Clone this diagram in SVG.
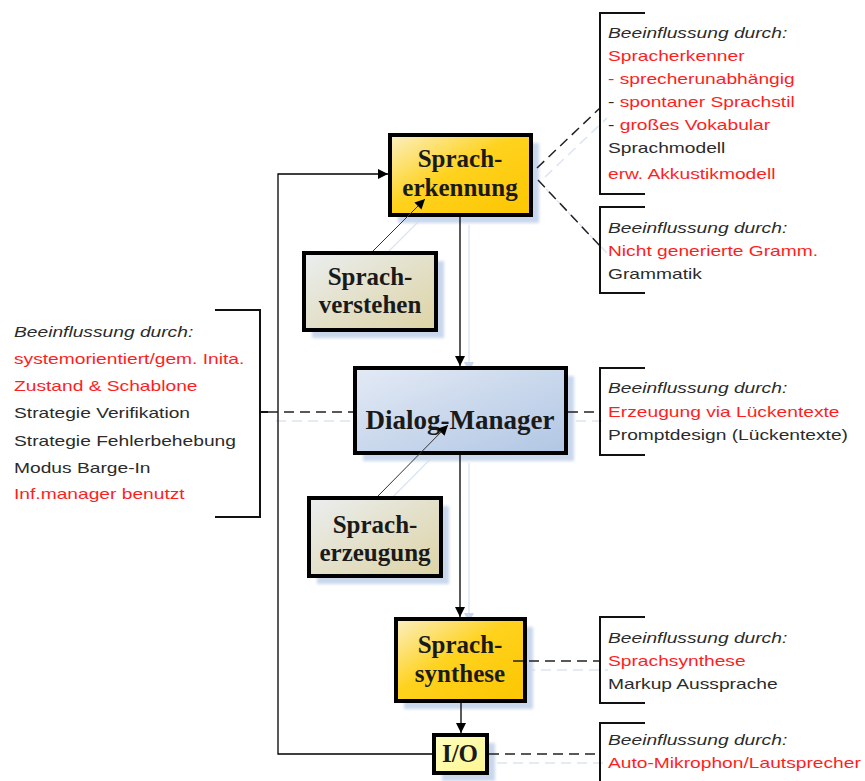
<svg xmlns="http://www.w3.org/2000/svg" width="865" height="781" viewBox="0 0 865 781">
  <style>
    .box { stroke: #000; stroke-width: 4; }
    .shadow { fill: #c9d7ec; filter: url(#soft); }
    .lbl { font-family: "Liberation Serif", "Times New Roman", serif; font-weight: bold; font-size: 25px; fill: #1a1a1a; text-anchor: middle; }
    .flow { stroke: #000; stroke-width: 1.3; fill: none; }
    .thin { stroke: #333; stroke-width: 1; fill: none; }
    .dash { stroke: #222; stroke-width: 1.5; fill: none; stroke-dasharray: 10 6; }
    .ghost { stroke: #dce5f2; stroke-width: 1.3; fill: none; }
    .ghostdash { stroke: #dce5f2; stroke-width: 1.5; fill: none; stroke-dasharray: 10 6; }
    .brk { stroke: #111; stroke-width: 2; fill: none; }
    .note { font-family: "Liberation Sans", Arial, sans-serif; font-size: 15px; fill: #2b2b2b; }
    .note .hd { font-style: italic; }
    .note .r { fill: #ff1e1e; }
  </style>
  <defs>
    <filter id="soft" x="-10%" y="-10%" width="120%" height="120%">
      <feGaussianBlur stdDeviation="1.5"/>
    </filter>
    <linearGradient id="gold" x1="0" y1="0" x2="1" y2="1">
      <stop offset="0" stop-color="#fbf0c4"/>
      <stop offset="0.45" stop-color="#ffd21e"/>
      <stop offset="1" stop-color="#fcc600"/>
    </linearGradient>
    <linearGradient id="beige" x1="0" y1="0" x2="1" y2="1">
      <stop offset="0" stop-color="#eaeef0"/>
      <stop offset="1" stop-color="#ddd3a4"/>
    </linearGradient>
    <linearGradient id="blue" x1="0" y1="0" x2="1" y2="1">
      <stop offset="0" stop-color="#e3eaf5"/>
      <stop offset="1" stop-color="#b1c6e4"/>
    </linearGradient>
    <linearGradient id="pale" x1="0" y1="0" x2="1" y2="1">
      <stop offset="0" stop-color="#ffffc0"/>
      <stop offset="1" stop-color="#fdf590"/>
    </linearGradient>
    <marker id="arr" viewBox="0 0 10 10" refX="10" refY="5" markerWidth="10" markerHeight="10" markerUnits="userSpaceOnUse" orient="auto">
      <path d="M0,0 L10,5 L0,10 z" fill="#000"/>
    </marker>
    <marker id="arrg" viewBox="0 0 10 10" refX="10" refY="5" markerWidth="10" markerHeight="10" markerUnits="userSpaceOnUse" orient="auto">
      <path d="M0,0 L10,5 L0,10 z" fill="#c9d7ec"/>
    </marker>
  </defs>

  <rect width="865" height="781" fill="#fff"/>

  <!-- soft blue echoes of the connectors -->
  <g id="connector-shadows">
    <line class="ghost" x1="469" y1="225" x2="469" y2="372" marker-end="url(#arrg)"/>
    <line class="ghost" x1="469" y1="463" x2="469" y2="623" marker-end="url(#arrg)"/>
    <line class="ghost" x1="381" y1="259" x2="433" y2="207" marker-end="url(#arrg)"/>
    <line class="ghost" x1="386" y1="504" x2="456" y2="433" marker-end="url(#arrg)"/>
    <line class="ghostdash" x1="276" y1="421" x2="362" y2="421"/>
    <line class="ghostdash" x1="576" y1="421" x2="608" y2="421"/>
    <line class="ghostdash" x1="545" y1="177" x2="607" y2="118"/>
    <line class="ghostdash" x1="546" y1="189" x2="607" y2="253"/>
    <line class="ghostdash" x1="525" y1="670" x2="608" y2="670"/>
    <line class="ghostdash" x1="497" y1="763" x2="608" y2="763"/>
  </g>

  <!-- nodes -->
  <g id="spracherkennung">
    <rect class="shadow" x="398" y="143" width="141" height="80"/>
    <rect class="box" x="390" y="135" width="141" height="80" fill="url(#gold)"/>
    <text class="lbl" x="460" y="167">Sprach-</text>
    <text class="lbl" x="460" y="196">erkennung</text>
  </g>
  <g id="sprachverstehen">
    <rect class="shadow" x="312" y="261" width="132" height="77"/>
    <rect class="box" x="304" y="253" width="132" height="77" fill="url(#beige)"/>
    <text class="lbl" x="370" y="285">Sprach-</text>
    <text class="lbl" x="370" y="313">verstehen</text>
  </g>
  <g id="dialog-manager">
    <rect class="shadow" x="363" y="376" width="211" height="85"/>
    <rect class="box" x="355" y="368" width="211" height="85" fill="url(#blue)"/>
    <text class="lbl" x="460" y="429" style="font-size:27px">Dialog-Manager</text>
  </g>
  <g id="spracherzeugung">
    <rect class="shadow" x="317" y="506" width="132" height="78"/>
    <rect class="box" x="309" y="498" width="132" height="78" fill="url(#beige)"/>
    <text class="lbl" x="375" y="533">Sprach-</text>
    <text class="lbl" x="375" y="561">erzeugung</text>
  </g>
  <g id="sprachsynthese">
    <rect class="shadow" x="404" y="627" width="129" height="82"/>
    <rect class="box" x="396" y="619" width="129" height="82" fill="url(#gold)"/>
    <text class="lbl" x="460" y="653">Sprach-</text>
    <text class="lbl" x="460" y="682">synthese</text>
  </g>
  <g id="io">
    <rect class="shadow" x="442" y="743" width="53" height="38"/>
    <rect class="box" x="434" y="735" width="53" height="38" fill="url(#pale)"/>
    <text class="lbl" x="460" y="762">I/O</text>
  </g>

  <!-- connectors -->
  <g id="connectors">
    <line class="flow" x1="460" y1="217" x2="460" y2="366" marker-end="url(#arr)"/>
    <line class="flow" x1="460" y1="455" x2="460" y2="617" marker-end="url(#arr)"/>
    <line class="flow" x1="461" y1="703" x2="461" y2="733" marker-end="url(#arr)"/>
    <polyline class="flow" points="432,754 278,754 278,174 388,174" marker-end="url(#arr)"/>
    <line class="thin" x1="373" y1="251" x2="425" y2="199" marker-end="url(#arr)"/>
    <line class="thin" x1="378" y1="496" x2="448" y2="425" marker-end="url(#arr)"/>
    <line class="dash" x1="268" y1="412" x2="353" y2="412"/>
    <line class="dash" x1="568" y1="412" x2="600" y2="412"/>
    <line class="dash" x1="537" y1="168" x2="600" y2="108"/>
    <line class="dash" x1="538" y1="180" x2="600" y2="246"/>
    <line class="dash" x1="513" y1="661" x2="600" y2="661"/>
    <line class="dash" x1="489" y1="754" x2="600" y2="754"/>
  </g>

  <!-- brackets -->
  <g id="brackets">
    <path class="brk" d="M215,310 H260 V517 H215 M260,412 H268"/>
    <path class="brk" d="M645,13 H600 V194 H645"/>
    <path class="brk" d="M645,207 H600 V293 H645"/>
    <path class="brk" d="M645,368 H600 V455 H645"/>
    <path class="brk" d="M645,617 H600 V703 H645"/>
    <path class="brk" d="M645,723 H600 V790"/>
  </g>

  <!-- annotations -->
  <g id="note-left" class="note" transform="translate(14 0) scale(1.28 1)">
    <text class="hd" x="0" y="337">Beeinflussung durch:</text>
    <text class="r" x="0" y="364">systemorientiert/gem. Inita.</text>
    <text class="r" x="0" y="391">Zustand &amp; Schablone</text>
    <text x="0" y="418">Strategie Verifikation</text>
    <text x="0" y="446">Strategie Fehlerbehebung</text>
    <text x="0" y="473">Modus Barge-In</text>
    <text class="r" x="0" y="499">Inf.manager benutzt</text>
  </g>
  <g id="note-recognizer" class="note" transform="translate(608 0) scale(1.28 1)">
    <text class="hd" x="0" y="38">Beeinflussung durch:</text>
    <text class="r" x="0" y="61">Spracherkenner</text>
    <text class="r" x="0" y="84">- sprecherunabhängig</text>
    <text x="0" y="107">- <tspan class="r">spontaner Sprachstil</tspan></text>
    <text x="0" y="130">- <tspan class="r">großes Vokabular</tspan></text>
    <text x="0" y="153">Sprachmodell</text>
    <text class="r" x="0" y="179">erw. Akkustikmodell</text>
  </g>
  <g id="note-grammar" class="note" transform="translate(608 0) scale(1.28 1)">
    <text class="hd" x="0" y="233">Beeinflussung durch:</text>
    <text class="r" x="0" y="256">Nicht generierte Gramm.</text>
    <text x="0" y="279">Grammatik</text>
  </g>
  <g id="note-dialog" class="note" transform="translate(608 0) scale(1.28 1)">
    <text class="hd" x="0" y="393">Beeinflussung durch:</text>
    <text class="r" x="0" y="417">Erzeugung via Lückentexte</text>
    <text x="0" y="440">Promptdesign (Lückentexte)</text>
  </g>
  <g id="note-synthesis" class="note" transform="translate(608 0) scale(1.28 1)">
    <text class="hd" x="0" y="643">Beeinflussung durch:</text>
    <text class="r" x="0" y="666">Sprachsynthese</text>
    <text x="0" y="689">Markup Aussprache</text>
  </g>
  <g id="note-io" class="note" transform="translate(608 0) scale(1.28 1)">
    <text class="hd" x="0" y="745">Beeinflussung durch:</text>
    <text class="r" x="0" y="768">Auto-Mikrophon/Lautsprecher</text>
  </g>
</svg>
